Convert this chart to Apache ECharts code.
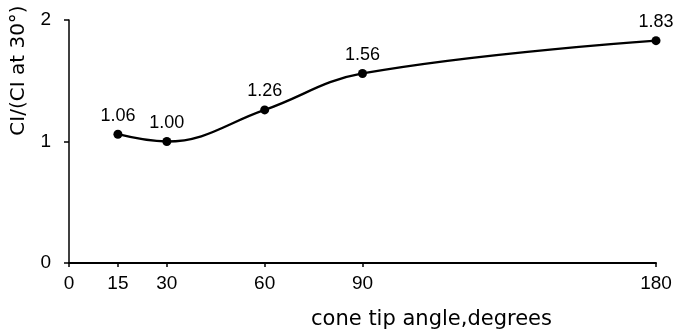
<!DOCTYPE html>
<html>
<head>
<meta charset="utf-8">
<script src="https://cdn.jsdelivr.net/npm/echarts@6/dist/echarts.min.js"></script>
<style>
  html, body { margin: 0; padding: 0; background: #fff; }
  #chart { width: 676px; height: 335px; }
</style>
</head>
<body>
<div id="chart"></div>
<script>
// Cone tip angle (degrees) and the cone index ratio CI / (CI at 30°)
const angles = [15, 30, 60, 90, 180];
const ciRatio = [1.06, 1.00, 1.26, 1.56, 1.83];
const xTicks = [0, 15, 30, 60, 90, 180];
const yTicks = [0, 1, 2];

const font = '"Liberation Sans", Arial, sans-serif';
const wideFont = '"DejaVu Sans", Verdana, sans-serif';
const ink = '#000';

const chart = echarts.init(document.getElementById('chart'), null, { renderer: 'canvas' });

chart.setOption({
  animation: false,
  backgroundColor: '#fff',
  grid: { left: 69, right: 20, top: 20, bottom: 72, containLabel: false },
  xAxis: {
    type: 'value',
    min: 0,
    max: 180,
    name: 'cone tip angle,degrees',
    nameLocation: 'middle',
    nameGap: 46,
    nameTextStyle: { color: ink, fontFamily: wideFont, fontSize: 21, padding: [0, 0, 0, 138] },
    axisLine: { show: true, onZero: false, lineStyle: { color: ink, width: 2 } },
    axisTick: { show: true, length: 4, inside: false, customValues: xTicks, lineStyle: { color: ink, width: 1.5 } },
    axisLabel: { color: ink, fontFamily: font, fontSize: 19, margin: 11, customValues: xTicks },
    splitLine: { show: false }
  },
  yAxis: {
    type: 'value',
    min: 0,
    max: 2,
    interval: 1,
    name: 'CI/(CI at 30°)',
    nameLocation: 'middle',
    nameRotate: 90,
    nameGap: 40,
    nameTextStyle: { color: ink, fontFamily: wideFont, fontSize: 20, padding: [0, 0, 0, 142] },
    axisLine: { show: true, lineStyle: { color: ink, width: 1.5 } },
    axisTick: { show: true, length: 5, inside: false, customValues: yTicks, lineStyle: { color: ink, width: 1.5 } },
    axisLabel: { color: ink, fontFamily: font, fontSize: 19, margin: 18, customValues: yTicks },
    splitLine: { show: false }
  },
  series: [{
    type: 'line',
    data: angles.map((a, i) => [a, ciRatio[i]]),
    smooth: 0.4,
    symbol: 'circle',
    symbolSize: 9,
    itemStyle: { color: ink },
    lineStyle: { color: ink, width: 2.3 },
    label: {
      show: true,
      position: 'top',
      distance: 5,
      color: ink,
      fontFamily: font,
      fontSize: 18,
      formatter: p => p.value[1].toFixed(2)
    }
  }]
});
</script>
</body>
</html>
